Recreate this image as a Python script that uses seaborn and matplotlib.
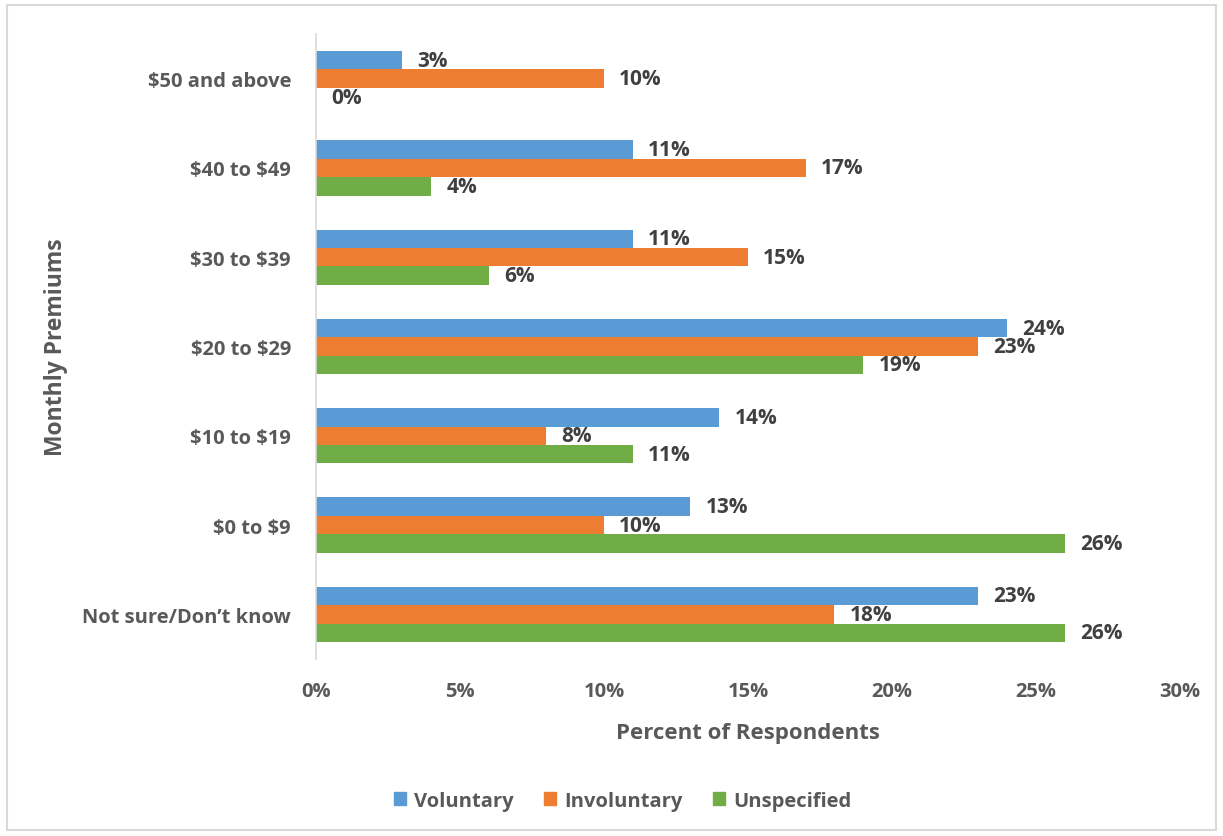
import matplotlib
matplotlib.use("Agg")
import matplotlib.pyplot as plt
import matplotlib.patches as mpatches
import matplotlib.transforms as mtransforms
import seaborn as sns
import pandas as pd

# Survey results: share of respondents by monthly premium band
categories = ["$50 and above", "$40 to $49", "$30 to $39", "$20 to $29",
              "$10 to $19", "$0 to $9", "Not sure/Don\u2019t know"]
voluntary = [3, 11, 11, 24, 14, 13, 23]
involuntary = [10, 17, 15, 23, 8, 10, 18]
unspecified = [0, 4, 6, 19, 11, 26, 26]
series_names = ["Voluntary", "Involuntary", "Unspecified"]
x_ticks = [0, 5, 10, 15, 20, 25, 30]

colors = ["#5B9BD5", "#ED7D31", "#70AD47"]

rows = []
for name, vals in zip(series_names, [voluntary, involuntary, unspecified]):
    for cat, v in zip(categories, vals):
        rows.append({"Premium": cat, "Series": name, "Percent": v})
df = pd.DataFrame(rows)

sns.set_theme(style="white")
plt.rcParams["font.family"] = ["Open Sans", "DejaVu Sans"]
plt.rcParams["text.parse_math"] = False

fig = plt.figure(figsize=(12.23, 8.37), dpi=100)
ax = fig.add_axes([0.2584, 0.2115, 0.7064, 0.7467])

sns.barplot(data=df, x="Percent", y="Premium", hue="Series",
            order=categories, hue_order=series_names, palette=colors,
            orient="h", width=0.62, saturation=1, linewidth=0, ax=ax)

ax.set_xlim(0, 30)
ax.set_ylim(len(categories) - 0.5, -0.5)
ax.set_xticks(x_ticks)
ax.set_xticklabels([f"{t}%" for t in x_ticks])

tick_color = "#595959"
for lbl in ax.get_xticklabels() + ax.get_yticklabels():
    lbl.set_fontweight("bold")
    lbl.set_color(tick_color)
    lbl.set_fontsize(14.5)
ax.tick_params(axis="both", length=0)
ax.tick_params(axis="x", pad=16)
ax.tick_params(axis="y", pad=18)

ax.set_xlabel("Percent of Respondents", fontsize=16, fontweight="bold",
              color=tick_color, labelpad=15)
ax.set_ylabel("Monthly Premiums", fontsize=16.5, fontweight="bold",
              color=tick_color, labelpad=10)

for side in ["top", "right", "bottom"]:
    ax.spines[side].set_visible(False)
ax.spines["left"].set_color("#D9D9D9")
ax.spines["left"].set_linewidth(1.2)

# Value labels, nudged slightly downward
nudge = mtransforms.ScaledTranslation(0, -2 / 100, fig.dpi_scale_trans)
for cont in ax.containers:
    texts = ax.bar_label(cont, fmt="%g%%", padding=11, fontsize=15,
                         fontweight="bold", color="#404040")
    for t in texts:
        t.set_transform(t.get_transform() + nudge)

if ax.get_legend() is not None:
    ax.get_legend().remove()
handles = [mpatches.Patch(color=c, label=n) for c, n in zip(colors, series_names)]
leg = fig.legend(handles=handles, loc="center", bbox_to_anchor=(0.509, 0.042),
                 ncol=3, frameon=False, fontsize=14.5, handlelength=0.6,
                 handleheight=0.6, handletextpad=0.4, columnspacing=1.5)
for t in leg.get_texts():
    t.set_fontweight("bold")
    t.set_color(tick_color)

# Light frame around the whole chart
fig.patches.append(mpatches.Rectangle((7 / 1223, 6 / 837), 1 - 14 / 1223, 1 - 12 / 837,
                                      transform=fig.transFigure, fill=False,
                                      edgecolor="#D9D9D9", linewidth=1.5))

fig.savefig("out.png", dpi=100)
